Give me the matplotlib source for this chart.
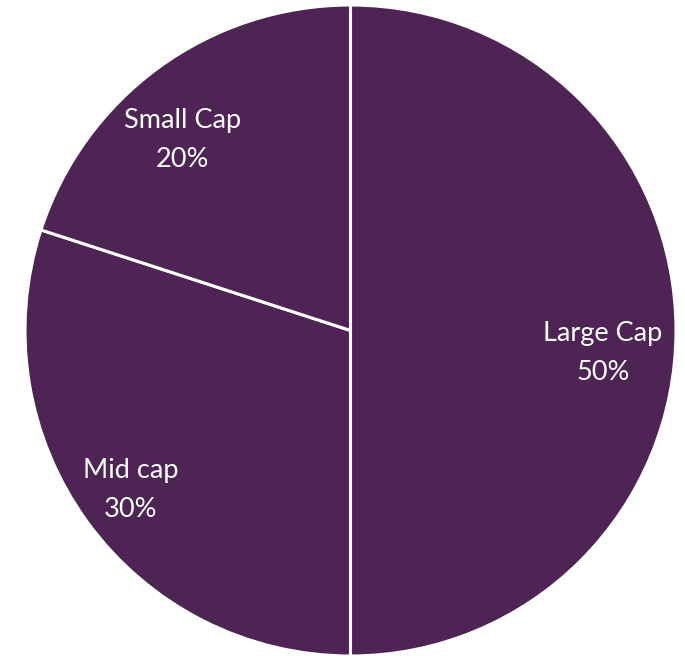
import matplotlib.pyplot as plt

plt.rcParams["font.family"] = ["Lato", "DejaVu Sans"]

CATEGORIES = ["Large Cap", "Mid cap", "Small Cap"]
SHARES = [50, 30, 20]
COLOR = "#4E2454"
LABEL_XY = [(0.775, -0.07), (-0.675, -0.49), (-0.515, 0.585)]

fig = plt.figure(figsize=(6.85, 6.56), dpi=100)
ax = fig.add_axes([25 / 685, 0.0, 651 / 685, 651 / 656])

labels = [f"{c}\n{v}%" for c, v in zip(CATEGORIES, SHARES)]
wedges, texts = ax.pie(
    SHARES,
    labels=labels,
    colors=[COLOR] * len(SHARES),
    startangle=90,
    counterclock=False,
    wedgeprops=dict(edgecolor="white", linewidth=2.2),
    textprops=dict(color="white", fontsize=19.5, linespacing=1.7),
)
for t, xy in zip(texts, LABEL_XY):
    t.set_position(xy)
    t.set_horizontalalignment("center")
    t.set_verticalalignment("center")

ax.set_xlim(-1.0, 1.0)
ax.set_ylim(-1.0, 1.0)
ax.set_aspect("equal")

fig.savefig("out.png", dpi=100)
